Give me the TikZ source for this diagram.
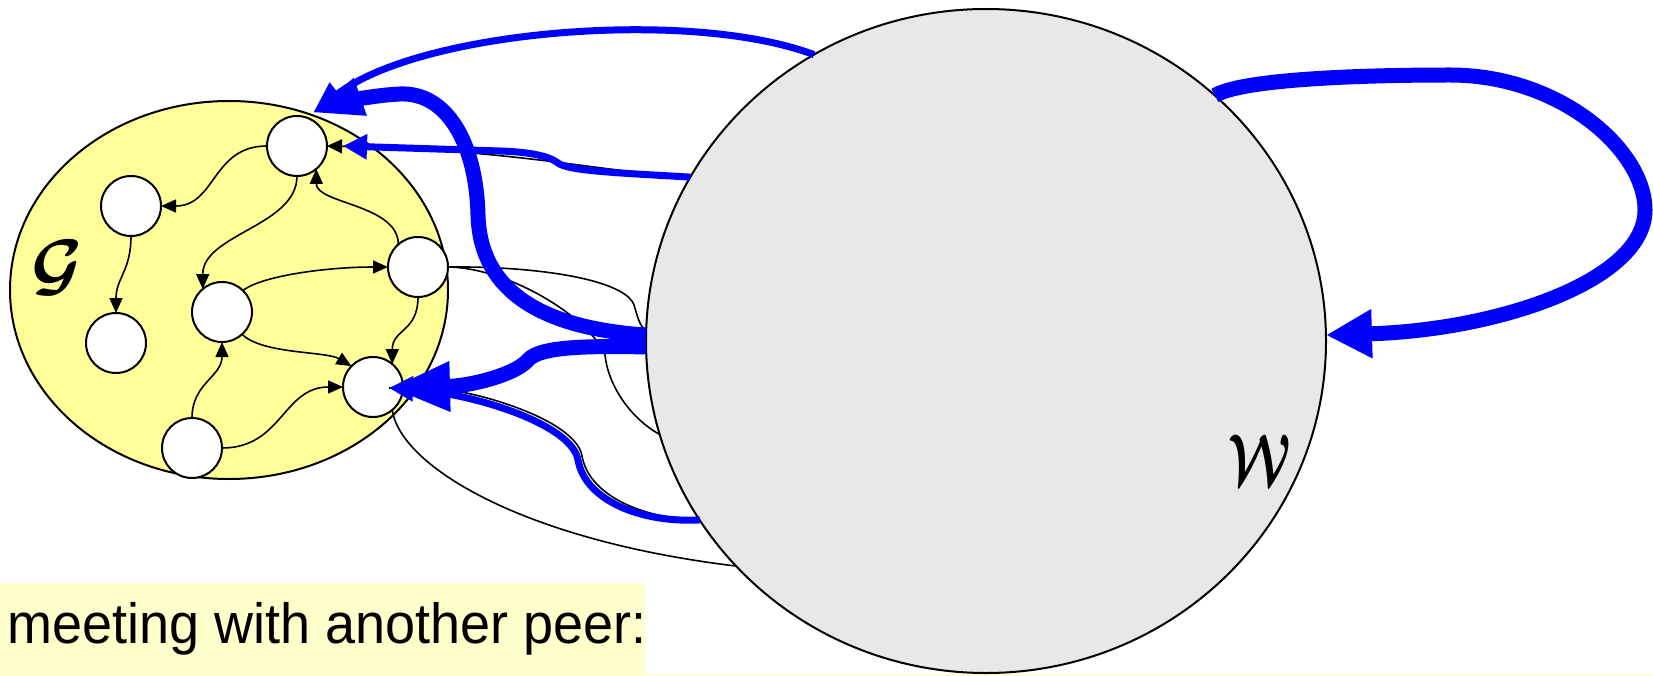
\documentclass[tikz,border=0pt]{standalone}
\usepackage{fontspec}
\usepackage{graphicx}
\usepackage{amsmath}
\usetikzlibrary{arrows.meta,shapes.geometric}
\newfontfamily\capfont{Liberation Sans}
\definecolor{gyellow}{HTML}{FFFF99}
\definecolor{pyellow}{HTML}{FFFFCC}
\definecolor{wgray}{HTML}{E8E8E8}
\definecolor{hiblue}{HTML}{0000FF}

\begin{document}
\begin{tikzpicture}[x=1pt,y=-1pt,
  vtx/.style={circle,draw,fill=white,minimum size=60pt,inner sep=0pt,outer sep=0pt,line width=2pt},
  gedge/.style={line width=1.6pt,-{Triangle[length=15pt,width=13pt]}},
  wire/.style={line width=1.6pt},
  thinblue/.style={draw=hiblue,line width=7pt},
  thickblue/.style={draw=hiblue,line width=15pt},
  region/.style={ellipse,draw,line width=2pt,inner sep=0pt,outer sep=0pt},
]
\useasboundingbox (0,0) rectangle (1653,676);

% caption strips
\fill[pyellow] (0,583) rectangle (645,676);
\fill[pyellow] (645,674) rectangle (1653,676);
\node[anchor=base west,inner sep=0pt,font=\capfont\fontsize{54}{60}\selectfont] (caption) at (7,643) {\scalebox{1}[1.05]{meeting with another peer:}};

% the world and the local graph
\node[region,fill=wgray,minimum width=680pt,minimum height=664pt] (world) at (986,341) {};
\node[region,fill=gyellow,minimum width=438pt,minimum height=378pt] (gset) at (229,290) {};

\node[vtx] (n1) at (297,146) {};
\node[vtx] (n2) at (131,206) {};
\node[vtx] (n3) at (116,343) {};
\node[vtx] (n4) at (222,312) {};
\node[vtx] (n5) at (418,267) {};
\node[vtx] (n6) at (373,387) {};
\node[vtx] (n7) at (192,448) {};

\node (glabel) at (57,268) {\scalebox{7}{$\boldsymbol{\mathcal{G}}$}};
\node (wlabel) at (1260,460) {\scalebox{5}[7.2]{$\boldsymbol{\mathcal{W}}$}};

% edges inside G
\draw[gedge] (n1.west) .. controls +(-55,0) and +(55,0) .. (n2.east);
\draw[gedge] (n1.south) .. controls +(0,50) and +(0,-55) .. (n4.130);
\draw[gedge] (n5.131) .. controls +(0,-40) and +(0,35) .. (n1.-50);
\draw[gedge] (n4.46) .. controls +(20,-15) and +(-60,0) .. (n5.west);
\draw[gedge] (n4.-48) .. controls +(20,20) and +(-25,-15) .. (n6.136);
\draw[gedge] (n5.south) .. controls +(0,35) and +(0,-35) .. (n6.50);
\draw[gedge] (n7.north) .. controls +(0,-35) and +(0,35) .. (n4.south);
\draw[gedge] (n7.east) .. controls +(60,0) and +(-60,0) .. (n6.west);
\draw[gedge] (n2.south) .. controls +(0,35) and +(0,-35) .. (n3.north);

% plain links from G into the world
\draw[wire] (n5.east) .. controls (540,266) and (625,280) .. (634,305) .. controls (638,318) and (640,328) .. (world.178);
\draw[wire] (n5.east) .. controls (510,268) and (590,318) .. (605,355) .. controls (608,385) and (630,418) .. (world.196);
\draw[wire] (n6.-50) .. controls (400,465) and (520,540) .. (world.222);

% arrow tip positions
\coordinate (aTip) at (313,113);
\coordinate (eTip) at (343,146);
\coordinate (cTip) at (390,388);
\coordinate (dTip) at (389,388);

% highlighted links
\draw[thinblue,-{Triangle[length=32pt,width=26pt]}] (world.121) .. controls (690,8) and (420,30) .. (aTip);
\draw[thickblue,-{Triangle[length=50pt,width=36pt]}] (world.179) .. controls (540,328) and (480,290) .. (478,215) .. controls (476,140) and (445,92) .. (400,94) .. controls (375,95) and (345,102) .. (aTip);

\draw[wire,-{Triangle[length=15pt,width=14pt]}] (world.151) .. controls (600,172) and (520,150) .. (n1.east);
\draw[thinblue,-{Triangle[length=24pt,width=24pt]}] (world.151) .. controls (620,173) and (568,171) .. (558,163) .. controls (549,156) and (530,152) .. (500,151) -- (eTip);

\draw[wire,shift={(4,-4)}] (world.212) .. controls (640,523) and (585,500) .. (578,460) .. controls (575,440) and (540,418) .. (483,402) .. controls (450,393) and (420,389) .. (dTip);
\draw[thinblue,-{Triangle[length=24pt,width=24pt]}] (world.212) .. controls (640,523) and (585,500) .. (578,460) .. controls (575,440) and (540,418) .. (483,402) .. controls (450,393) and (420,389) .. (dTip);

\draw[thickblue,-{Triangle[length=60pt,width=46pt]}] (world.181) .. controls (590,346) and (540,346) .. (528,360) .. controls (515,375) and (470,386) .. (cTip);

% self loop on the world
\draw[thickblue,-{Triangle[length=46pt,width=46pt]}] (world.47) .. controls (1240,80) and (1350,75) .. (1450,75) .. controls (1560,75) and (1645,150) .. (1645,210) .. controls (1645,280) and (1500,330) .. (world.1);
\end{tikzpicture}
\end{document}
